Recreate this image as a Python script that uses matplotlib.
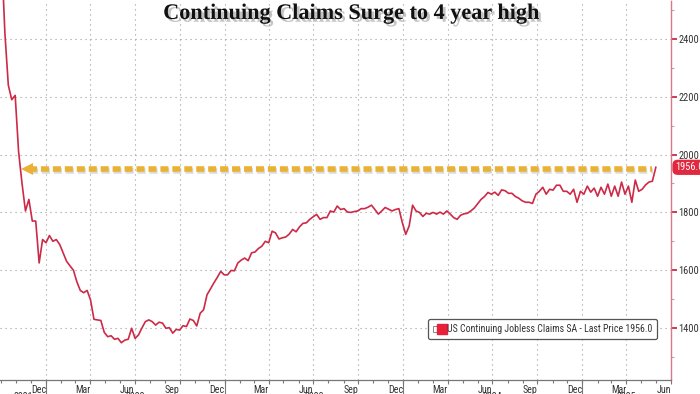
import pandas as pd
import matplotlib
matplotlib.use('Agg')
import matplotlib.pyplot as plt
import matplotlib.patheffects as pe
import matplotlib.transforms as mtransforms
from matplotlib import font_manager as fm
from matplotlib.lines import Line2D
from matplotlib.legend_handler import HandlerTuple

# 美国持续申领失业金人数 SA（千人），每周数据
claims = [2700, 2420, 2240, 2190, 2205, 2010, 1900, 1805, 1845, 1770,
          1770, 1625, 1706, 1695, 1720, 1700, 1706, 1689, 1660, 1631,
          1615, 1600, 1560, 1530, 1522, 1530, 1497, 1430, 1428, 1426,
          1385, 1370, 1373, 1361, 1364, 1349, 1358, 1361, 1399, 1364,
          1376, 1400, 1422, 1428, 1422, 1410, 1420, 1417, 1399, 1401,
          1382, 1395, 1393, 1408, 1405, 1431, 1426, 1407, 1451, 1463,
          1515, 1535, 1556, 1575, 1596, 1584, 1584, 1599, 1598, 1625,
          1635, 1642, 1633, 1660, 1663, 1675, 1683, 1700, 1695, 1735,
          1729, 1708, 1712, 1715, 1725, 1741, 1733, 1750, 1762, 1764,
          1776, 1785, 1793, 1776, 1782, 1782, 1805, 1801, 1822, 1810,
          1813, 1801, 1800, 1803, 1805, 1813, 1813, 1818, 1825, 1810,
          1794, 1805, 1817, 1811, 1805, 1810, 1813, 1765, 1724, 1753,
          1825, 1805, 1800, 1786, 1797, 1794, 1800, 1794, 1801, 1794,
          1805, 1794, 1782, 1776, 1790, 1795, 1797, 1805, 1815, 1830,
          1845, 1855, 1869, 1863, 1870, 1859, 1878, 1875, 1866, 1866,
          1855, 1849, 1840, 1835, 1835, 1831, 1863, 1873, 1887, 1863,
          1880, 1877, 1894, 1894, 1873, 1873, 1863, 1880, 1835, 1873,
          1863, 1891, 1870, 1884, 1856, 1887, 1863, 1898, 1856, 1891,
          1856, 1905, 1863, 1891, 1835, 1912, 1873, 1880, 1895, 1905,
          1908, 1956]
weeks = pd.date_range('2021-10-02', periods=len(claims), freq='7D')

last_price = 1956.0
ref_level = 1950          # 黄色虚线水平
ref_start = pd.Timestamp('2021-11-19')
ref_end = pd.Timestamp('2025-05-23')

y_ticks = [1400, 1600, 1800, 2000, 2200, 2400]
years = [2021, 2022, 2023, 2024, 2025]
title = 'Continuing Claims Surge to 4 year high'
legend_label = 'US Continuing Jobless Claims SA - Last Price 1956.0'

x_min, x_max = pd.Timestamp('2021-09-29'), pd.Timestamp('2025-07-01')

# 找一个窄体字体（Bloomberg 风格），没有就退回 DejaVu Sans 并缩小字号
names = {f.name for f in fm.fontManager.ttflist}
font_kw = None
for n in ['Liberation Sans Narrow', 'Arial Narrow', 'Roboto Condensed', 'Open Sans Condensed',
          'DejaVu Sans Condensed', 'Noto Sans Condensed']:
    if n in names:
        font_kw = {'family': n, 'stretch': 'normal'}
        break
if font_kw is None:
    for f in fm.fontManager.ttflist:
        if f.name in ('DejaVu Sans', 'Roboto', 'Open Sans', 'Noto Sans', 'Inter') \
                and 'condensed' in str(f.stretch) and f.weight in (400, 'normal', 'regular'):
            font_kw = {'family': f.name, 'stretch': f.stretch}
            break
if font_kw is None:
    font_kw = {'family': 'DejaVu Sans', 'stretch': 'normal'}
    fs = 6.0
    fs_leg = 5.6
else:
    fs = 7.2
    fs_leg = 7.1

red = '#cc2a46'
gold = '#e9b236'
grey_txt = '#333333'

fig = plt.figure(figsize=(7, 3.94), dpi=100)
ax = fig.add_axes([0, 14 / 394, 671 / 700, 380 / 394])

# 网格线
for y in y_ticks:
    ax.axhline(y, color='#9a9a9a', lw=0.8, ls=(0, (1, 3.5)), zorder=0)
quarters = pd.date_range('2022-01-01', '2025-07-01', freq='QS')
for d in quarters:
    ax.axvline(d, color='#9a9a9a', lw=0.8, ls=(0, (1, 3.5)), zorder=0)

# 主线
ax.plot(weeks, claims, color=red, lw=1.2, zorder=3)

# 黄色虚线箭头
shadow = [pe.SimpleLineShadow(offset=(1, -1.5), shadow_color='#999999', alpha=0.35), pe.Normal()]
ax.plot([ref_start + pd.Timedelta(days=8), ref_end], [ref_level, ref_level],
        color=gold, lw=4.0, ls=(0, (1.45, 0.7)), solid_capstyle='butt',
        path_effects=shadow, zorder=4)
ax.plot([ref_start + pd.Timedelta(days=5)], [ref_level], marker='<', color=gold,
        markersize=8, markeredgewidth=0, zorder=4)

ax.set_xlim(x_min, x_max)
ax.set_ylim(1220, 2535)

# 右侧 y 轴
ax.yaxis.tick_right()
ax.set_yticks(y_ticks)
ax.set_yticks(range(1300, 2600, 100), minor=True)
ax.tick_params(axis='y', which='major', length=4, width=1.3, color=red, pad=1.5,
               labelsize=fs + 0.3, labelcolor=grey_txt)
ax.tick_params(axis='y', which='minor', length=2, width=0.8, color='#c9a0a8')
for lab in ax.get_yticklabels():
    lab.set_family(font_kw['family'])
    lab.set_stretch(font_kw['stretch'])

# x 轴：刻度在季度开始处，标签为前一个月
ax.set_xticks(quarters)
ax.set_xticklabels([(d - pd.Timedelta(days=1)).strftime('%b') for d in quarters],
                   ha='right', fontsize=fs, color=grey_txt, **font_kw)
ax.set_xticks(pd.date_range('2021-10-01', '2025-07-01', freq='MS'), minor=True)
ax.tick_params(axis='x', which='major', length=3, width=0.8, color='#777777', pad=0.5)
ax.tick_params(axis='x', which='minor', length=2, width=0.8, color='#777777')

# 年份标签与分隔线
trans = mtransforms.blended_transform_factory(ax.transData, ax.transAxes)
for yr in years:
    a = max(pd.Timestamp(f'{yr}-01-01'), x_min)
    b = min(pd.Timestamp(f'{yr + 1}-01-01'), x_max)
    ax.text(a + (b - a) / 2, -0.031, str(yr), transform=trans, ha='center', va='top',
            fontsize=fs, color=grey_txt, **font_kw)
    if yr > 2021:
        ax.plot([pd.Timestamp(f'{yr}-01-01')] * 2, [0, -0.08], transform=trans,
                color='#777777', lw=0.8, clip_on=False)

for s in ['top', 'left']:
    ax.spines[s].set_visible(False)
ax.spines['bottom'].set_color('#777777')
ax.spines['bottom'].set_linewidth(0.9)
ax.spines['right'].set_color('#d9788c')
ax.spines['right'].set_linestyle((0, (1, 1)))
ax.spines['right'].set_linewidth(1.0)

# 最新值标签
trans_y = mtransforms.blended_transform_factory(ax.transAxes, ax.transData)
ax.text(1.006, last_price, '1956.0', transform=trans_y, ha='left', va='center',
        color='white', fontsize=fs + 0.3,
        bbox=dict(boxstyle='round,pad=0.25,rounding_size=0.5', fc='#e0283e', ec='none'),
        clip_on=False, **font_kw)

# 图例
h_icon = Line2D([], [], marker='s', ls='none', markersize=4, markerfacecolor='white',
                markeredgecolor='#888888', markeredgewidth=0.7)
h_red = Line2D([], [], marker='s', ls='none', markersize=7, color='#e8203a')
leg = ax.legend([(h_icon, h_red)], [legend_label], loc='lower left',
                bbox_to_anchor=(0.635, 0.103), handler_map={tuple: HandlerTuple(ndivide=None, pad=0.05)},
                handlelength=1.2, handletextpad=0.25, borderpad=0.5, borderaxespad=0.2,
                fancybox=True, framealpha=1, edgecolor='#555555',
                prop=fm.FontProperties(family=font_kw['family'], stretch=font_kw['stretch'], size=fs_leg))
leg.get_frame().set_linewidth(0.9)
for t in leg.get_texts():
    t.set_color(grey_txt)

# 标题
fig.text(0.503, 0.99, title, ha='center', va='top', fontsize=16, fontweight='bold',
         family=['Liberation Serif', 'DejaVu Serif'], color='#111111',
         path_effects=[pe.withSimplePatchShadow(offset=(2, -2), shadow_rgbFace='#888888', alpha=0.5)])

fig.savefig('out.png', dpi=100)
